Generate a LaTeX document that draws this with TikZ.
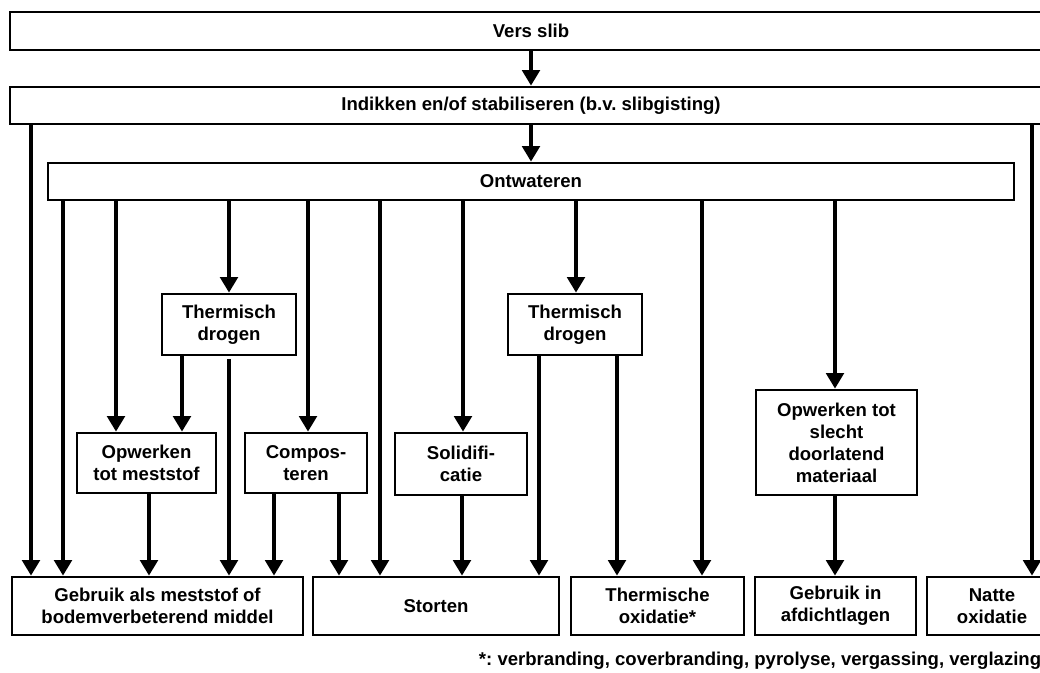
\documentclass[tikz,border=0pt]{standalone}
\usepackage{fontspec}
\setmainfont{Liberation Sans}
\usetikzlibrary{arrows.meta}
\frenchspacing

\tikzset{
  box/.style={draw, line width=2pt, align=center, inner sep=0pt},
  sz/.style 2 args={minimum width=#1*0.025cm, minimum height=#2*0.025cm},
  arr/.style={line width=2.3pt, -{Triangle[width=12.5pt,length=11pt]}},
}

\begin{document}
\begin{tikzpicture}[x=0.025cm, y=-0.025cm, font=\fontsize{13.2}{15.6}\selectfont\bfseries]
  \useasboundingbox (0,0) rectangle (1040,672);
  \clip (0,0) rectangle (1040,672);
  % main chain
  \node[box, sz={1042}{38}] (vers) at (531,31) {Vers slib};
  \node[box, sz={1042}{37}] (indik) at (531,105.5) {Indikken en/of stabiliseren (b.v. slibgisting)};
  \node[box, sz={966}{37}] (ontw) at (531,181.5) {Ontwateren};
  % intermediate steps
  \node[box, sz={134}{61}] (tda) at (229,324.5) {Thermisch\\drogen};
  \node[box, sz={134}{61}] (tdb) at (575,324.5) {Thermisch\\drogen};
  \node[box, sz={139}{60}] (mest) at (146.5,463) {Opwerken\\tot meststof};
  \node[box, sz={122}{60}] (comp) at (306,463) {Compos-\\teren};
  \node[box, sz={132}{62}] (soli) at (461,464) {Solidifi-\\catie};
  \node[box, sz={161}{105}] (afdm) at (836.5,442.5) {Opwerken tot\\slecht\\doorlatend\\materiaal};
  % end points
  \node[box, sz={291}{58}] (geb) at (157.5,606) {Gebruik als meststof of\\bodemverbeterend middel};
  \node[box, sz={246}{58}] (sto) at (436,606) {Storten};
  \node[box, sz={173}{58}] (tox) at (657.5,606) {Thermische\\oxidatie*};
  \node[box, sz={161}{58}] (afd) at (835.5,606) {Gebruik in\\afdichtlagen};
  \node[box, sz={130}{58}] (nat) at (992,606) {Natte\\oxidatie};
  \node[anchor=base west] (note) at (474,665) {*: verbranding, coverbranding, pyrolyse, vergassing, verglazing};

  \draw[arr] (vers) -- (indik);
  \draw[arr] (indik) -- (ontw);
  \foreach \x/\t in {31/geb,1032/nat}
    \draw[arr] (indik.south -| \x,0) -- (\t.north -| \x,0);
  \foreach \x/\t in {63/geb,116/mest,229/tda,308/comp,380/sto,463/soli,576/tdb,702/tox,835/afdm}
    \draw[arr] (ontw.south -| \x,0) -- (\t.north -| \x,0);
  \foreach \s/\x/\t in {tda/182/mest,mest/149/geb,comp/274/geb,comp/339/sto,soli/462/sto,tdb/539/sto,tdb/617/tox,afdm/835/afd}
    \draw[arr] (\s.south -| \x,0) -- (\t.north -| \x,0);
  \draw[arr, shorten <=2pt] (tda.south -| 229,0) -- (geb.north -| 229,0);
\end{tikzpicture}
\end{document}
